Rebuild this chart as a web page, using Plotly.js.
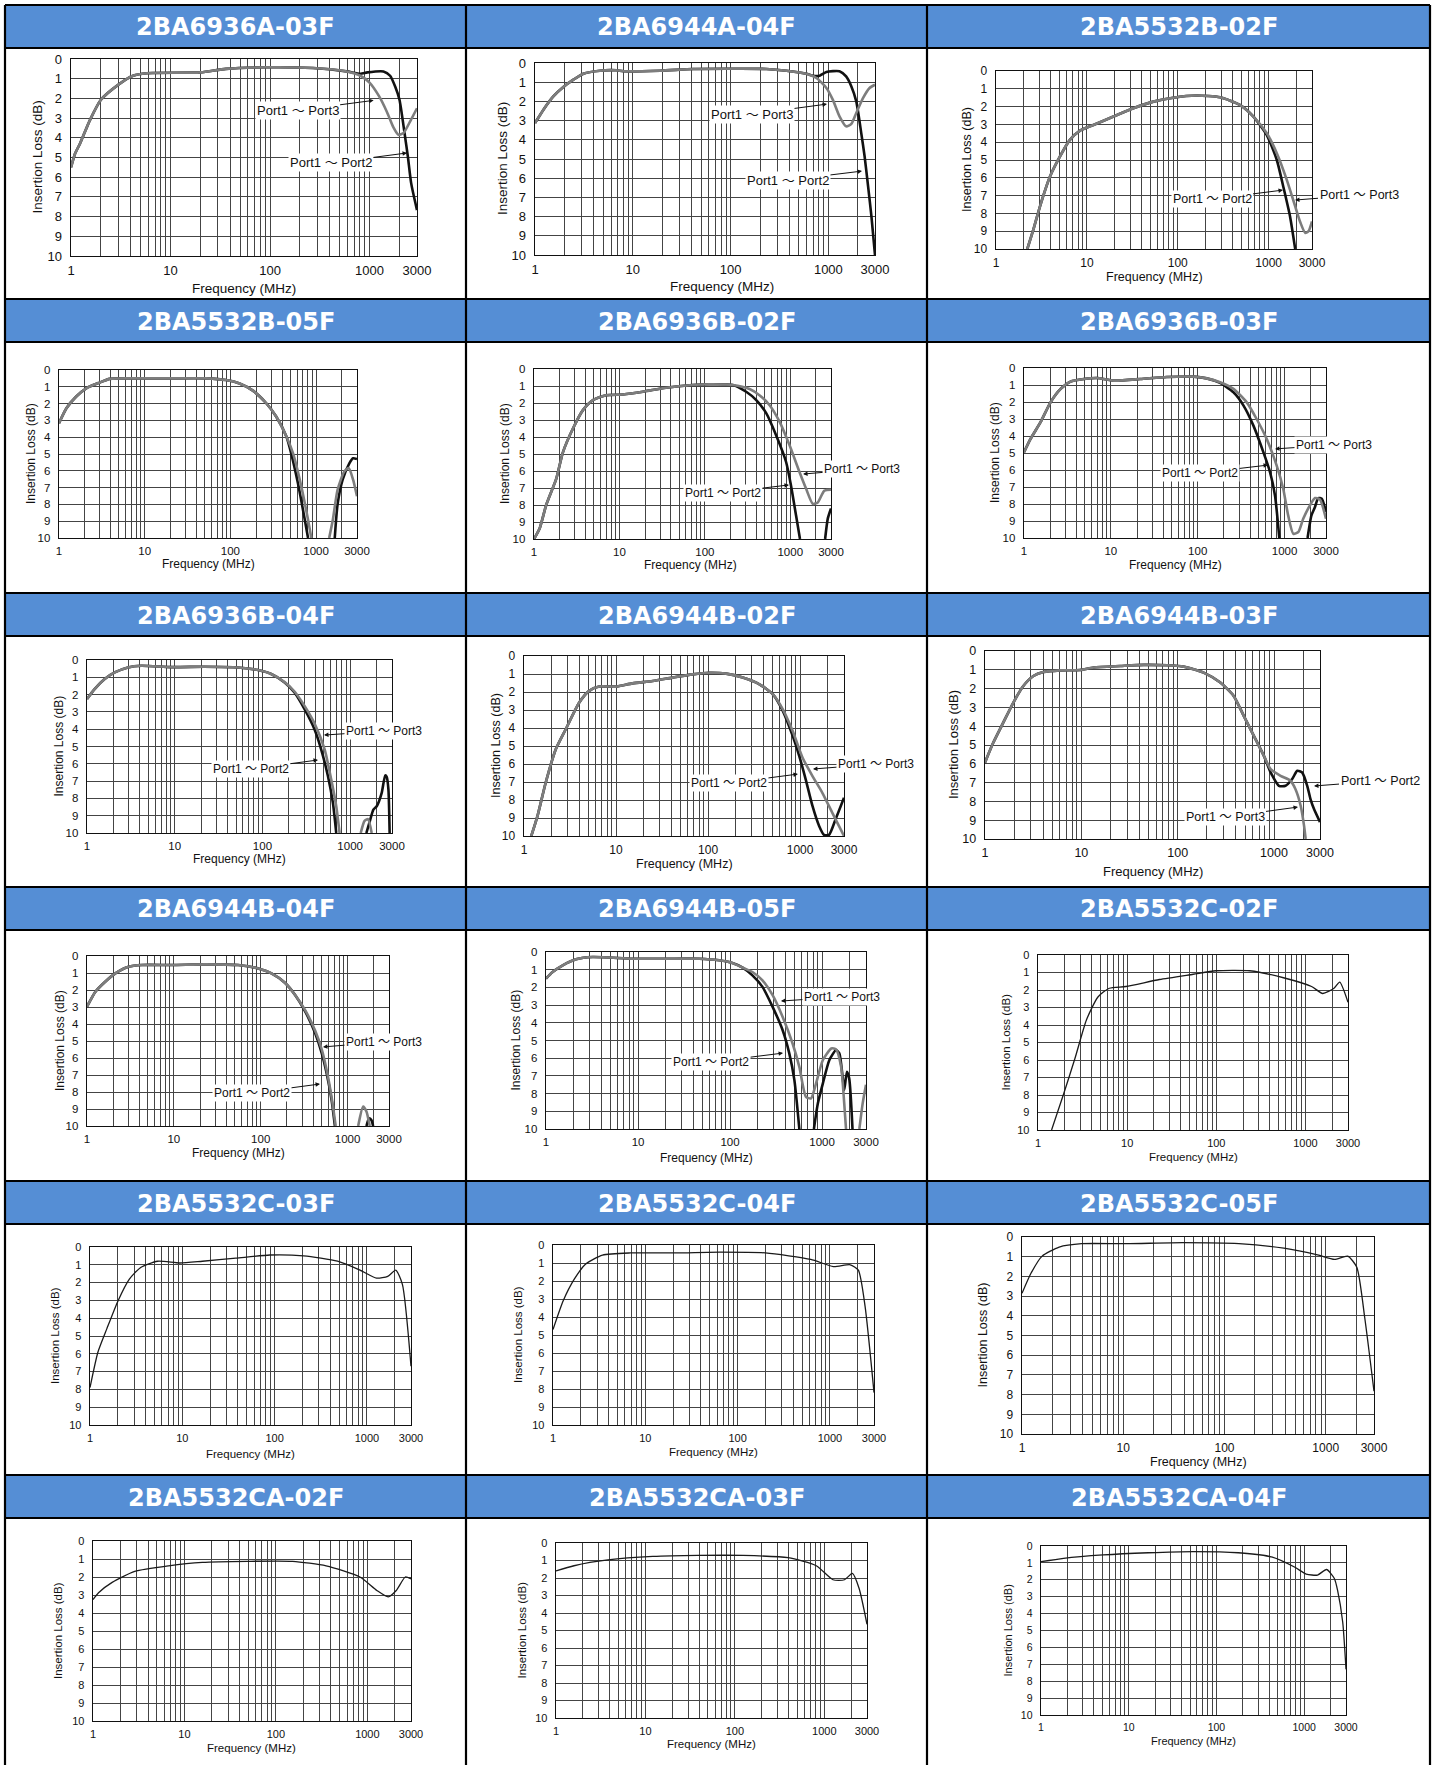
<!DOCTYPE html>
<html><head><meta charset="utf-8">
<script src="https://cdn.plot.ly/plotly-3.0.1.min.js"></script>
<style>html,body{margin:0;padding:0;background:#fff}#chart{width:1436px;height:1765px}</style>
</head><body><div id="chart"></div>
<script>
// ---------------- DATA ----------------
const titles = ['2BA6936A-03F','2BA6944A-04F','2BA5532B-02F','2BA5532B-05F','2BA6936B-02F','2BA6936B-03F',
  '2BA6936B-04F','2BA6944B-02F','2BA6944B-03F','2BA6944B-04F','2BA6944B-05F','2BA5532C-02F',
  '2BA5532C-03F','2BA5532C-04F','2BA5532C-05F','2BA5532CA-02F','2BA5532CA-03F','2BA5532CA-04F'];
const xTickVals = [1,10,100,1000,3000];
const xTickText = ['1','10','100','1000','3000'];
const xMinorVals = [2,3,4,5,6,7,8,9,20,30,40,50,60,70,80,90,200,300,400,500,600,700,800,900,2000];
const yTickVals = [0,1,2,3,4,5,6,7,8,9,10];
const xTitle = 'Frequency (MHz)';
const yTitle = 'Insertion Loss (dB)';
const L12 = 'Port1 \uFF5E Port2';
const L13 = 'Port1 \uFF5E Port3';

// 2BA6936A-03F
const p01_k_f = [1,1.1,1.23,1.55,2,3,4.2,5.8,20,36,93,270,590,810,950,1380,1610,1810,2000,2250,2430,2620,3000];
const p01_k_v = [5.5,4.8,4.3,3.1,2.07,1.3,0.85,0.72,0.68,0.5,0.42,0.46,0.63,0.75,0.68,0.63,0.85,1.4,2.07,3.77,4.96,6.3,7.67];
const p01_g_f = [1,1.1,1.23,1.55,2,3,4.2,5.8,20,36,93,270,590,810,1000,1250,1500,1750,1950,2200,2600,3000];
const p01_g_v = [5.5,4.8,4.3,3.1,2.07,1.3,0.85,0.72,0.68,0.5,0.42,0.46,0.63,0.85,1.2,1.9,2.7,3.5,3.85,3.75,3.1,2.5];
// 2BA6944A-04F
const p02_k_f = [1,1.22,1.54,1.95,2.47,3.12,4.6,6.8,8,19,41.6,91,233,373,596,700,815,955,1300,1520,1720,1930,2170,2350,2550,2760,3000];
const p02_k_v = [3.13,2.43,1.74,1.25,0.87,0.56,0.4,0.38,0.43,0.4,0.31,0.3,0.31,0.4,0.56,0.66,0.66,0.47,0.43,0.7,1.22,2.0,3.65,4.87,6.43,8.0,10];
const p02_g_f = [1,1.22,1.54,1.95,2.47,3.12,4.6,6.8,8,19,41.6,91,233,373,596,755,955,1110,1300,1520,1720,1930,2260,2640,3000];
const p02_g_v = [3.13,2.43,1.74,1.25,0.87,0.56,0.4,0.38,0.43,0.4,0.31,0.3,0.31,0.4,0.56,0.78,1.3,1.91,2.78,3.3,3.17,2.6,1.83,1.3,1.13];
// 2BA5532B-02F
const p03_k_f = [2.21,2.58,3.05,3.93,5.06,6.5,8.4,11.8,19.6,32.5,54,89,161,292,482,680,955,1230,1450,1720,1960];
const p03_k_v = [10,8.9,7.6,5.93,4.8,3.87,3.35,3.03,2.56,2.09,1.72,1.5,1.38,1.48,1.9,2.56,3.6,5.0,6.5,8.17,10];
const p03_g_f = [2.21,2.58,3.05,3.93,5.06,6.5,8.4,11.8,19.6,32.5,54,89,161,292,482,680,955,1230,1580,1960,2230,2530,2750,3000];
const p03_g_v = [10,8.9,7.6,5.93,4.8,3.87,3.35,3.03,2.56,2.09,1.72,1.5,1.38,1.48,1.9,2.56,3.5,4.62,6.1,7.6,8.5,9.1,9.0,8.45];
// 2BA5532B-05F
const p04_k_f = [1,1.22,1.59,2.08,2.98,3.9,7.3,17.9,52,89,128,183,262,342,450,512,613,737,805,1200,1650,1780,2040,2450,2700,3000];
const p04_k_v = [3.17,2.28,1.58,1.09,0.75,0.53,0.5,0.5,0.5,0.6,0.8,1.23,1.98,2.77,3.96,4.96,6.73,8.9,10,null,10,8.0,6.53,5.54,5.25,5.3];
const p04_g_f = [1,1.22,1.59,2.08,2.98,3.9,7.3,17.9,52,89,128,183,262,342,450,537,672,805,880,1100,1420,1570,1780,2130,2400,2700,3000];
const p04_g_v = [3.17,2.28,1.58,1.09,0.75,0.53,0.5,0.5,0.5,0.6,0.8,1.23,1.98,2.77,3.96,4.95,6.93,8.91,10,null,10,8.9,7.13,6.04,5.84,6.53,7.52];
// 2BA6936B-02F
const p05_k_f = [1,1.16,1.39,1.82,2.18,2.86,3.74,4.9,7.0,11,18.8,35,72,113,212,305,400,523,683,894,1020,1170,1300,2000,2560,2750,3000];
const p05_k_v = [10,9.4,8.0,6.46,4.9,3.5,2.42,1.83,1.54,1.5,1.34,1.1,0.94,0.9,0.94,1.34,1.83,2.6,3.9,5.47,6.85,8.62,10,null,10,8.8,8.2];
const p05_g_f = [1,1.16,1.39,1.82,2.18,2.86,3.74,4.9,7.0,11,18.8,35,72,113,212,334,436,573,749,982,1283,1535,1835,2100,2510,3000];
const p05_g_v = [10,9.4,8.0,6.46,4.9,3.5,2.42,1.83,1.54,1.5,1.34,1.1,0.94,0.9,0.94,1.18,1.54,2.13,3.1,4.49,6.06,7.05,7.93,7.85,7.15,7.1];
// 2BA6936B-03F
const p06_k_f = [1,1.19,1.55,2.02,2.64,3.43,4.9,6.95,10.8,21.8,44,90,127,181,258,337,438,570,680,776,870,1300,1840,2040,2240,2440,2680,3000];
const p06_k_v = [4.95,4.17,3.19,2.02,1.23,0.8,0.65,0.59,0.74,0.65,0.53,0.51,0.61,0.88,1.43,2.21,3.39,4.95,6.12,7.5,10,null,10,8.67,8.18,7.65,7.69,8.47];
const p06_g_f = [1,1.19,1.55,2.02,2.64,3.43,4.9,6.95,10.8,21.8,44,90,127,181,258,367,477,622,810,965,1100,1260,1440,1640,1960,2240,2550,3000];
const p06_g_v = [4.95,4.17,3.19,2.02,1.23,0.8,0.65,0.59,0.74,0.65,0.53,0.51,0.61,0.84,1.23,2.02,3.0,4.17,5.73,7.1,8.67,9.75,9.65,8.87,8.08,7.65,7.73,8.87];
// 2BA6936B-04F
const p07_k_f = [1,1.22,1.59,2.07,2.93,4.16,9.15,21.9,52.6,89,126,179,232,302,392,467,558,636,694,1100,1530,1680,1840,2010,2290,2510,2610,2730,2820];
const p07_k_v = [2.26,1.68,1.1,0.72,0.43,0.33,0.41,0.39,0.43,0.58,0.81,1.3,1.88,2.84,4.0,5.16,6.71,8.26,10,null,10,9.3,8.65,8.45,7.68,6.67,6.75,7.48,10];
const p07_g_f = [1,1.22,1.59,2.07,2.93,4.16,9.15,21.9,52.6,89,126,179,232,302,392,512,608,694,758,1000,1320,1460,1600,1760];
const p07_g_v = [2.26,1.68,1.1,0.72,0.43,0.33,0.41,0.39,0.43,0.58,0.81,1.28,1.82,2.65,3.66,5.16,6.9,8.45,10,null,10,9.3,9.2,10];
// 2BA6944B-02F
const p08_k_f = [1.2,1.4,1.72,2.21,2.84,3.97,5.1,6.56,9.96,15.1,25,41,67.6,103,157,238,362,507,649,831,980,1150,1363,1610,1822,2060,2430,3000];
const p08_k_v = [10,8.9,7.04,5.19,4.07,2.6,1.94,1.7,1.7,1.52,1.39,1.2,1.02,0.93,0.98,1.2,1.57,2.13,3.05,4.44,5.56,6.85,8.33,9.44,9.94,9.94,9.07,7.87];
const p08_g_f = [1.2,1.4,1.72,2.21,2.84,3.97,5.1,6.56,9.96,15.1,25,41,67.6,103,157,238,362,507,649,831,1064,1363,1745,2234,3000];
const p08_g_v = [10,8.9,7.04,5.19,4.07,2.6,1.94,1.7,1.7,1.52,1.39,1.2,1.02,0.93,0.98,1.2,1.57,2.13,2.96,4.17,5.65,6.67,7.6,8.7,10];
// 2BA6944B-03F
const p09_k_f = [1,1.22,1.55,1.97,2.5,3.18,4.04,6.02,9.7,13.4,25.4,44.5,77.8,115,186,277,381,485,617,785,922,1124,1316,1543,1743,1960,2210,2390,2600,3000];
const p09_k_v = [5.93,4.87,3.8,2.74,1.86,1.33,1.12,1.03,1.01,0.88,0.8,0.74,0.76,0.83,1.15,1.68,2.39,3.45,4.51,5.58,6.46,7.17,7.17,6.81,6.37,6.46,7.17,7.88,8.41,9.1];
const p09_g_f = [1,1.22,1.55,1.97,2.5,3.18,4.04,6.02,9.7,13.4,25.4,44.5,77.8,115,186,277,381,485,617,785,922,1170,1480,1670,1890,2050,2130];
const p09_g_v = [5.93,4.87,3.8,2.74,1.86,1.33,1.12,1.03,1.01,0.88,0.8,0.74,0.76,0.83,1.15,1.68,2.39,3.45,4.51,5.58,6.28,6.64,6.9,7.35,8.23,9.3,10];
// 2BA6944B-04F
const p10_k_f = [1,1.25,1.62,2.12,3.01,4.29,9.5,22.9,55,93.8,133,190,249,326,424,505,574,655,715,1200,1650,1770,1880,1970];
const p10_k_v = [2.98,2.1,1.51,1.02,0.63,0.53,0.53,0.49,0.53,0.73,1.02,1.57,2.29,3.27,4.55,5.73,6.9,8.47,10,null,10,9.55,9.65,10];
const p10_g_f = [1,1.25,1.62,2.12,3.01,4.29,9.5,22.9,55,93.8,133,190,249,326,424,505,574,655,730,1000,1325,1510,1650,1800];
const p10_g_v = [2.98,2.1,1.51,1.02,0.63,0.53,0.53,0.49,0.53,0.73,1.02,1.57,2.29,3.2,4.4,5.5,6.7,8.3,10,null,10,8.86,9.15,10];
// 2BA6944B-05F
const p11_k_f = [1,1.18,1.52,2.12,3.21,8.75,20,46,76,106,137,175,225,290,373,440,500,566,700,815,900,1020,1200,1420,1540,1670,1740,1860,1970,2140];
const p11_k_v = [1.5,1.13,0.75,0.41,0.28,0.38,0.38,0.38,0.47,0.62,0.88,1.32,1.97,3.1,4.42,5.73,7.24,10,null,10,8.55,7.42,6.1,5.54,5.73,7.05,7.8,6.77,7.14,10];
const p11_g_f = [1,1.18,1.52,2.12,3.21,8.75,20,46,76,106,137,175,225,290,373,478,566,668,760,860,1020,1260,1420,1610,1740,1820,2200,2540,2760,3000];
const p11_g_v = [1.5,1.13,0.75,0.41,0.28,0.38,0.38,0.38,0.47,0.62,0.88,1.13,1.6,2.44,3.67,5.17,6.49,8.18,8.27,7.42,6.1,5.45,5.5,6.49,8.55,10,null,10,8.55,7.5];
// single-path parts
const p12_f = [1.42,1.95,2.6,3.5,4.7,6.3,9.7,23,55,99,237,566,1170,1560,2090,2420,3000];
const p12_v = [10,7.9,5.9,3.7,2.4,1.9,1.8,1.4,1.1,0.9,0.9,1.3,1.8,2.2,1.9,1.55,2.7];
const p13_f = [1,1.22,1.52,2.02,2.67,3.54,5.4,9.4,16.5,38,89,206,480,840,1270,1680,2050,2420,3000];
const p13_v = [7.9,5.9,4.6,3.0,1.8,1.15,0.8,0.9,0.8,0.63,0.45,0.5,0.8,1.3,1.75,1.65,1.3,2.1,6.7];
const p14_f = [1,1.29,1.7,2.26,3.44,6.9,21.3,65,200,620,1090,1660,2030,2400,3000];
const p14_v = [4.7,3.1,1.9,1.06,0.56,0.44,0.44,0.4,0.44,0.8,1.2,1.1,1.4,3.4,8.2];
const p15_f = [1,1.23,1.58,2.33,3.88,10.8,38.7,139,386,830,1220,1650,2030,2430,3000];
const p15_v = [2.86,1.83,0.97,0.51,0.34,0.34,0.29,0.34,0.57,0.91,1.14,0.97,1.54,4.1,7.83];
const p16_f = [1,1.15,1.62,2.86,6.7,15.7,48.8,152,354,830,1270,1690,2070,2600,3000];
const p16_v = [3.25,2.87,2.3,1.69,1.38,1.19,1.13,1.13,1.38,2.0,2.75,3.1,2.75,2.0,2.1];
const p17_f = [1,1.59,3.8,12.1,38.6,123,393,812,1250,1680,2060,2450,3000];
const p17_v = [1.6,1.3,0.97,0.77,0.71,0.71,0.84,1.3,2.1,2.1,1.74,2.6,4.65];
const p18_f = [1,1.81,5.1,16.7,54.5,178,434,785,1055,1420,1800,2210,2400,2750,3000];
const p18_v = [0.93,0.73,0.53,0.4,0.33,0.4,0.66,1.26,1.66,1.72,1.39,1.92,2.6,4.5,7.3];

// ---------------- LAYOUT CONFIG ----------------
const W = 1436, H = 1765;
const colX = [5, 466, 927, 1430];
const rowTop = 5, headH = 43, rowH = 294;
const BLUE = '#558ED5';
const K = 'k', G = 'g', T = 't';
const panels = [
 {box:[71,417,59,256], fs:13, xt:33, yt:34, af:13, s:[[p01_k_f,p01_k_v,K],[p01_g_f,p01_g_v,G]], n:[[L13,1100,2.1,-76,10],[L12,2382,4.77,-76,10]]},
 {box:[535,875,63,255], fs:13, xt:31, yt:32, af:13, xdx:17, s:[[p02_k_f,p02_k_v,K],[p02_g_f,p02_g_v,G]], n:[[L13,969,2.14,-75,10],[L12,2208,5.63,-74,9]]},
 {box:[996,1312,71,249], fs:12, xt:28, yt:29, af:12.5, s:[[p03_k_f,p03_k_v,K],[p03_g_f,p03_g_v,G]], n:[[L12,1439,6.69,-71,9],[L13,1950,7.25,64,-5]]},
 {box:[59,357,370,538], fs:11.5, xt:26, yt:28, af:12, s:[[p04_k_f,p04_k_v,K],[p04_g_f,p04_g_v,G]], n:[[L12,3100,5.18,60,-5],[L13,3076,7.02,61,-5]]},
 {box:[534,831,369,539], fs:11.5, xt:26, yt:29, af:12, xdx:8, s:[[p05_k_f,p05_k_v,K],[p05_g_f,p05_g_v,G]], n:[[L13,1413,6.18,59,-5],[L12,966,6.82,-66,8]]},
 {box:[1024,1326,368,538], fs:11.5, xt:27, yt:29, af:12, s:[[p06_k_f,p06_k_v,K],[p06_g_f,p06_g_v,G]], n:[[L13,776,4.76,59,-4],[L12,645,5.71,-68,8]]},
 {box:[87,392,660,833], fs:11.5, xt:26, yt:29, af:12, s:[[p07_k_f,p07_k_v,K],[p07_g_f,p07_g_v,G]], n:[[L13,503,4.34,60,-4],[L12,430,5.78,-67,9]]},
 {box:[524,844,656,836], fs:12, xt:28, yt:28, af:12, s:[[p08_k_f,p08_k_v,K],[p08_g_f,p08_g_v,G]], n:[[L13,1380,6.28,63,-5],[L12,948,6.56,-69,9]]},
 {box:[985,1320,651,839], fs:12.5, xt:32, yt:32, af:12.5, s:[[p09_k_f,p09_k_v,K],[p09_g_f,p09_g_v,G]], n:[[L12,2600,7.18,66,-5],[L13,1774,8.3,-73,10]]},
 {box:[87,389,956,1126], fs:11.5, xt:27, yt:27, af:12, s:[[p10_k_f,p10_k_v,K],[p10_g_f,p10_g_v,G]], n:[[L13,521,5.35,61,-5],[L12,482,7.53,-68,9]]},
 {box:[546,866,952,1129], fs:11.5, xt:29, yt:31, af:12, s:[[p11_k_f,p11_k_v,K],[p11_g_f,p11_g_v,G]], n:[[L13,357,2.77,61,-4],[L12,377,5.71,-72,9]]},
 {box:[1038,1348,955,1130], fs:11, xt:27, yt:33, s:[[p12_f,p12_v,T]], n:[]},
 {box:[90,411,1247,1425], fs:11, xt:29, yt:35, s:[[p13_f,p13_v,T]], n:[]},
 {box:[553,874,1245,1425], fs:11, xt:27, yt:35, s:[[p14_f,p14_v,T]], n:[]},
 {box:[1022,1374,1237,1434], fs:12, xt:28, yt:40, s:[[p15_f,p15_v,T]], n:[]},
 {box:[93,411,1541,1721], fs:11, xt:27, yt:35, s:[[p16_f,p16_v,T]], n:[]},
 {box:[556,867,1543,1718], fs:11, xt:26, yt:35, s:[[p17_f,p17_v,T]], n:[]},
 {box:[1041,1346,1546,1715], fs:10.5, xt:26, yt:34, s:[[p18_f,p18_v,T]], n:[]}
];
const lineStyle = {
  k: {color:'#111111', width:2.6},
  g: {color:'#7d7d7d', width:2.6},
  t: {color:'#1a1a1a', width:1.3}
};
const GRID = '#444444';
const FONT = 'Liberation Sans, Arial, "Noto Sans CJK JP", sans-serif';
const px2x = p => p / W;
const px2y = p => 1 - p / H;

const data = [];
const layout = {
  width: W, height: H,
  margin: {l:0, r:0, t:0, b:0},
  paper_bgcolor: '#ffffff', plot_bgcolor: '#ffffff',
  showlegend: false,
  font: {family: FONT, color: '#111'},
  shapes: [], annotations: []
};

panels.forEach((p, i) => {
  const n = i + 1;
  const xa = n === 1 ? 'x' : 'x' + n;
  const ya = n === 1 ? 'y' : 'y' + n;
  const [L, R, Tp, B] = p.box;
  layout[n === 1 ? 'xaxis' : 'xaxis' + n] = {
    domain: [px2x(L), px2x(R)], anchor: ya, type: 'log',
    range: [0, Math.log10(3000)],
    tickmode: 'array', tickvals: xTickVals, ticktext: xTickText,
    showgrid: true, gridcolor: GRID, gridwidth: 1,
    minor: {tickmode: 'array', tickvals: xMinorVals, showgrid: true, gridcolor: GRID, gridwidth: 1, ticks: ''},
    showline: true, linecolor: '#111', linewidth: 1.4, mirror: true,
    ticks: '', ticklabelstandoff: 2, zeroline: false, fixedrange: true,
    tickfont: {family: FONT, size: p.fs, color: '#111'}
  };
  layout[n === 1 ? 'yaxis' : 'yaxis' + n] = {
    domain: [px2y(B), px2y(Tp)], anchor: xa,
    range: [10, 0], tickmode: 'array', tickvals: yTickVals,
    showgrid: true, gridcolor: GRID, gridwidth: 1,
    minor: {showgrid: false, ticks: ''},
    showline: true, linecolor: '#111', linewidth: 1.4, mirror: true,
    ticks: '', ticklabelstandoff: 5, zeroline: false, fixedrange: true,
    tickfont: {family: FONT, size: p.fs, color: '#111'}
  };
  p.s.forEach(([f, v, st]) => {
    data.push({type: 'scatter', mode: 'lines', x: f, y: v, xaxis: xa, yaxis: ya,
      connectgaps: false, hoverinfo: 'skip',
      line: Object.assign({shape: 'spline', smoothing: 0.6}, lineStyle[st])});
  });
  // axis titles
  layout.annotations.push({xref: 'paper', yref: 'paper', x: px2x((L + R) / 2 + (p.xdx || 0)), y: px2y(B + p.xt),
    text: xTitle, showarrow: false, xanchor: 'center', yanchor: 'middle',
    font: {family: FONT, size: p.fs + 0.5, color: '#111'}});
  layout.annotations.push({xref: 'paper', yref: 'paper', x: px2x(L - p.yt), y: px2y((Tp + B) / 2),
    text: yTitle, showarrow: false, textangle: -90, xanchor: 'center', yanchor: 'middle',
    font: {family: FONT, size: p.fs + 0.5, color: '#111'}});
  // port labels
  p.n.forEach(([txt, f, v, ax, ay]) => {
    layout.annotations.push({xref: xa, yref: ya, x: Math.log10(f), y: v, ax: ax, ay: ay,
      text: txt, showarrow: true, arrowhead: 2, arrowsize: 0.9, arrowwidth: 1, arrowcolor: '#111',
      bgcolor: '#ffffff', borderpad: 1, standoff: 0,
      font: {family: FONT, size: p.af, color: '#111'}});
  });
  // header
  const r = Math.floor(i / 3), c = i % 3;
  const y0 = rowTop + r * rowH, y1 = y0 + headH;
  layout.shapes.push({type: 'rect', xref: 'paper', yref: 'paper', layer: 'below',
    x0: px2x(colX[c]), x1: px2x(colX[c + 1]), y0: px2y(y0), y1: px2y(y1),
    fillcolor: BLUE, line: {width: 0}});
  layout.annotations.push({xref: 'paper', yref: 'paper', x: px2x((colX[c] + colX[c + 1]) / 2), y: px2y((y0 + y1) / 2 + 1),
    text: titles[i], showarrow: false, xanchor: 'center', yanchor: 'middle',
    font: {family: 'DejaVu Sans, Verdana, sans-serif', size: 24, color: '#ffffff', weight: 700}});
});

// cell borders
for (let r = 0; r < 6; r++) {
  [rowTop + r * rowH, rowTop + r * rowH + headH].forEach(yy => {
    layout.shapes.push({type: 'line', xref: 'paper', yref: 'paper', x0: px2x(colX[0]), x1: px2x(colX[3]),
      y0: px2y(yy), y1: px2y(yy), line: {color: '#000', width: 2.2}});
  });
}
colX.forEach(xx => {
  layout.shapes.push({type: 'line', xref: 'paper', yref: 'paper', x0: px2x(xx), x1: px2x(xx),
    y0: px2y(rowTop), y1: px2y(H + 5), line: {color: '#000', width: 2.2}});
});

Plotly.newPlot('chart', data, layout, {staticPlot: true, displayModeBar: false});
</script>
</body></html>
